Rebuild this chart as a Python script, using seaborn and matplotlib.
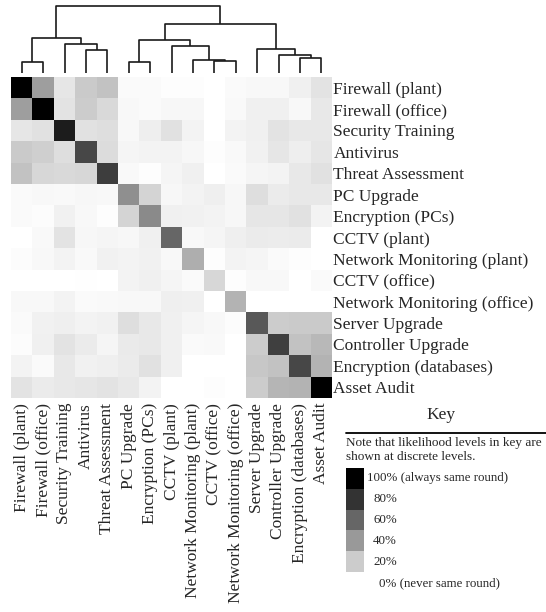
import numpy as np
import pandas as pd
import matplotlib
matplotlib.use("Agg")
import matplotlib.pyplot as plt
from matplotlib.lines import Line2D
import seaborn as sns

# ---- data -------------------------------------------------------------------
labels = [
    "Firewall (plant)", "Firewall (office)", "Security Training", "Antivirus",
    "Threat Assessment", "PC Upgrade", "Encryption (PCs)", "CCTV (plant)",
    "Network Monitoring (plant)", "CCTV (office)", "Network Monitoring (office)",
    "Server Upgrade", "Controller Upgrade", "Encryption (databases)", "Asset Audit",
]

# likelihood that two measures land in the same round (0..1)
co_round = np.array([
    [1.00, 0.38, 0.10, 0.21, 0.24, 0.02, 0.02, 0.01, 0.01, 0.00, 0.02, 0.03, 0.03, 0.06, 0.11],
    [0.38, 1.00, 0.11, 0.20, 0.15, 0.03, 0.02, 0.035, 0.035, 0.00, 0.025, 0.06, 0.06, 0.03, 0.09],
    [0.10, 0.12, 0.89, 0.12, 0.13, 0.03, 0.07, 0.12, 0.05, 0.00, 0.05, 0.06, 0.11, 0.09, 0.09],
    [0.21, 0.19, 0.13, 0.72, 0.14, 0.04, 0.05, 0.05, 0.035, 0.01, 0.025, 0.055, 0.10, 0.07, 0.10],
    [0.24, 0.16, 0.15, 0.16, 0.76, 0.025, 0.01, 0.04, 0.06, 0.00, 0.02, 0.04, 0.05, 0.09, 0.12],
    [0.02, 0.03, 0.025, 0.035, 0.03, 0.44, 0.17, 0.035, 0.05, 0.065, 0.035, 0.13, 0.08, 0.09, 0.09],
    [0.02, 0.015, 0.055, 0.03, 0.01, 0.17, 0.46, 0.06, 0.055, 0.05, 0.035, 0.10, 0.10, 0.12, 0.05],
    [0.00, 0.025, 0.11, 0.035, 0.04, 0.035, 0.06, 0.60, 0.03, 0.04, 0.065, 0.08, 0.075, 0.08, 0.00],
    [0.015, 0.03, 0.05, 0.025, 0.055, 0.05, 0.055, 0.03, 0.32, 0.01, 0.05, 0.04, 0.02, 0.01, 0.00],
    [0.00, 0.00, 0.00, 0.005, 0.00, 0.05, 0.06, 0.04, 0.02, 0.16, 0.01, 0.03, 0.03, 0.00, 0.02],
    [0.03, 0.03, 0.05, 0.02, 0.025, 0.03, 0.03, 0.065, 0.06, 0.00, 0.30, 0.00, 0.00, 0.00, 0.00],
    [0.02, 0.055, 0.065, 0.05, 0.055, 0.13, 0.09, 0.06, 0.04, 0.03, 0.015, 0.655, 0.20, 0.21, 0.21],
    [0.015, 0.06, 0.11, 0.08, 0.04, 0.085, 0.09, 0.06, 0.02, 0.025, 0.00, 0.20, 0.75, 0.24, 0.28],
    [0.05, 0.02, 0.09, 0.055, 0.065, 0.08, 0.12, 0.06, 0.00, 0.00, 0.00, 0.22, 0.24, 0.72, 0.30],
    [0.11, 0.08, 0.09, 0.10, 0.11, 0.09, 0.05, 0.00, 0.00, 0.01, 0.00, 0.20, 0.29, 0.30, 1.00],
])

# dendrogram merges: (left node, right node, height); new nodes numbered from 15
merges = [
    (0, 1, 10.7),
    (3, 4, 23.0),
    (2, 16, 28.7),
    (15, 17, 35.3),
    (5, 6, 11.3),
    (9, 10, 12.3),
    (8, 20, 12.7),
    (7, 21, 27.3),
    (19, 22, 33.0),
    (13, 14, 14.7),
    (12, 24, 18.0),
    (11, 25, 23.7),
    (23, 26, 48.7),
    (18, 27, 67.0),
]

key_levels = [1.0, 0.8, 0.6, 0.4, 0.2]
key_labels = ["100% (always same round)", "80%", "60%", "40%", "20%"]
key_zero_label = "0% (never same round)"

# ---- style ------------------------------------------------------------------
sns.set_style("white")
plt.rcParams['font.family'] = ['Liberation Serif', 'DejaVu Serif']

W, H = 546, 612
fig = plt.figure(figsize=(W / 100, H / 100), dpi=100)


def fx(px):
    return px / W


def fy(py):
    return 1 - py / H


cmap = sns.blend_palette(["white", "black"], as_cmap=True)

# ---- heatmap ----------------------------------------------------------------
ax = fig.add_axes([fx(11), fy(398), fx(321), 321 / H])
df = pd.DataFrame(co_round, index=labels, columns=labels)
sns.heatmap(df, ax=ax, cmap=cmap, vmin=0, vmax=1, cbar=False,
            xticklabels=True, yticklabels=True)
ax.yaxis.tick_right()
ax.tick_params(axis='both', length=0)
ax.tick_params(axis='y', pad=1)
ax.tick_params(axis='x', pad=3.5)
ax.set_yticklabels(labels, rotation=0, fontsize=12.5)
ax.set_xticklabels(labels, rotation=90, fontsize=12.5)
ax.set_xlabel("")
ax.set_ylabel("")

# ---- dendrogram -------------------------------------------------------------
ax_d = fig.add_axes([fx(11), fy(73), fx(321), 67 / H])
n = len(labels)
pos = {i: i + 0.5 for i in range(n)}
hgt = {i: 0.0 for i in range(n)}
for k, (a, b, h) in enumerate(merges):
    node = n + k
    xa, xb = pos[a], pos[b]
    ax_d.plot([xa, xa, xb, xb], [hgt[a], h, h, hgt[b]],
              color='#1a1a1a', lw=1.2, clip_on=False, solid_capstyle='butt')
    pos[node] = (xa + xb) / 2
    hgt[node] = h
ax_d.set_xlim(0, n)
ax_d.set_ylim(0, merges[-1][2])
ax_d.axis('off')

# ---- key --------------------------------------------------------------------
fig.text(fx(441), fy(415), "Key", ha='center', va='center', fontsize=12.5)
fig.add_artist(Line2D([fx(346), 1.0], [fy(433), fy(433)], color='black', lw=1.3))
fig.text(fx(346), fy(443), "Note that likelihood levels in key are",
         ha='left', va='center', fontsize=9.5)
fig.text(fx(346), fy(457), "shown at discrete levels.",
         ha='left', va='center', fontsize=9.5)

ax_k = fig.add_axes([fx(346), fy(572), fx(18), 104 / H])
sns.heatmap(np.array(key_levels).reshape(-1, 1), ax=ax_k, cmap=cmap,
            vmin=0, vmax=1, cbar=False, xticklabels=False, yticklabels=False)

row_h = 104 / len(key_levels)
for i, lab in enumerate(key_labels):
    x0 = 367 if i == 0 else 373
    fig.text(fx(x0), fy(468 + row_h * (i + 0.5)), lab,
             ha='left', va='center', fontsize=9.3)
fig.text(fx(379), fy(583), key_zero_label, ha='left', va='center', fontsize=9.3)

fig.savefig("out.png", dpi=100)
